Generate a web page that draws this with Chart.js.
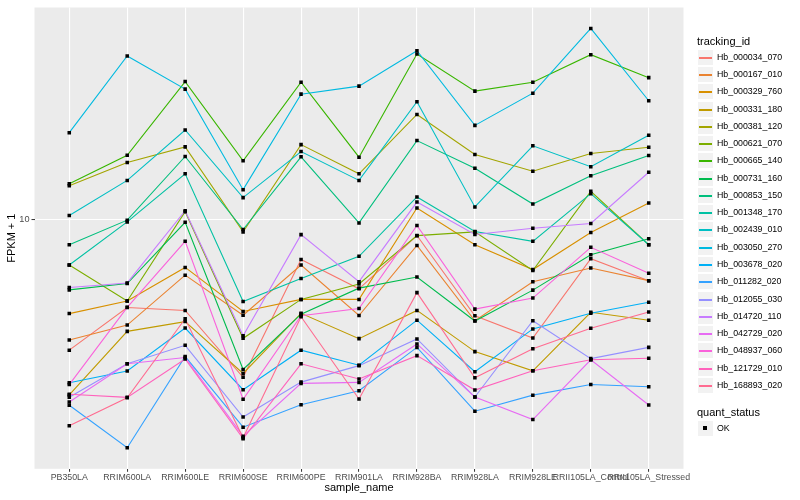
<!DOCTYPE html>
<html>
<head>
<meta charset="utf-8">
<script src="https://cdn.jsdelivr.net/npm/chart.js@4.4.0/dist/chart.umd.min.js"></script>
<style>
  body { margin: 0; background: #fff; }
  #wrap { position: relative; width: 800px; height: 500px; }
  #legend { position: absolute; left: 0; top: 0; width: 800px; height: 500px; pointer-events: none;
            font-family: "Liberation Sans", Arial, sans-serif; }
  #legend .ttl { position: absolute; font-size: 11px; color: #000; line-height: 14px; white-space: nowrap; }
  #legend .key { position: absolute; width: 17px; height: 17px; background: #F2F2F2;
                 box-sizing: border-box; border: 1px solid #fff; }
  #legend .ln { position: absolute; left: 1px; right: 1px; top: 6.5px; height: 2px; }
  #legend .sq { position: absolute; left: 5px; top: 5px; width: 4px; height: 4px; background: #000; }
  #legend .lab { position: absolute; font-size: 8.8px; color: #000; line-height: 17px; white-space: nowrap; }
</style>
</head>
<body>
<div id="wrap">
  <canvas id="chart" width="800" height="500"></canvas>
  <div id="legend"></div>
</div>
<script>
// samples on the x axis
const sampleNames = ['PB350LA', 'RRIM600LA', 'RRIM600LE', 'RRIM600SE', 'RRIM600PE', 'RRIM901LA',
                     'RRIM928BA', 'RRIM928LA', 'RRIM928LE', 'RRII105LA_Control', 'RRII105LA_Stressed'];
const yTicks = [10];

// FPKM + 1 per gene (same order as sampleNames)
const hb000034_070 = [3.65, 5.07, 4.96, 2.96, 7.35, 5.86, 8.84, 4.76, 4.01, 7.39, 6.24];
const hb000167_010 = [3.95, 4.43, 6.51, 4.78, 7.04, 4.77, 8.19, 4.58, 6.19, 6.88, 6.24];
const hb000329_760 = [4.84, 5.33, 6.91, 4.92, 5.40, 5.40, 10.93, 8.23, 6.80, 9.05, 11.35];
const hb000331_180 = [2.585, 4.22, 4.55, 3.05, 4.85, 3.99, 4.96, 3.61, 3.114, 4.89, 4.60];
const hb000381_120 = [12.98, 15.52, 17.51, 9.09, 17.82, 14.23, 22.49, 16.51, 14.52, 16.63, 17.46];
const hb000621_070 = [7.04, 5.33, 10.62, 4.00, 5.40, 6.08, 8.83, 9.09, 6.75, 12.43, 8.23];
const hb000665_140 = [13.18, 16.42, 28.97, 15.73, 28.84, 16.17, 35.84, 26.92, 28.84, 35.65, 29.87];
const hb000731_160 = [5.81, 6.10, 9.79, 3.145, 4.82, 5.89, 6.42, 4.57, 5.80, 7.62, 8.62];
const hb000853_150 = [8.23, 9.95, 16.26, 9.26, 16.22, 9.74, 18.38, 14.86, 11.27, 14.02, 16.38];
const hb001348_170 = [7.04, 9.82, 14.23, 5.31, 6.34, 7.53, 11.90, 9.12, 8.45, 12.21, 8.23];
const hb002439_010 = [10.31, 13.52, 19.95, 11.84, 16.89, 13.52, 24.80, 11.02, 17.65, 15.02, 19.14];
const hb003050_270 = [19.54, 35.30, 27.34, 12.59, 26.30, 27.98, 36.76, 20.67, 26.50, 43.65, 24.99];
const hb003678_020 = [2.84, 3.11, 4.33, 2.69, 3.65, 3.25, 4.60, 3.09, 4.30, 4.85, 5.28];
const hb011282_020 = [2.386, 1.72, 3.475, 2.015, 2.395, 2.67, 3.73, 2.28, 2.58, 2.80, 2.754];
const hb012055_030 = [2.537, 3.286, 3.79, 2.18, 2.853, 3.24, 3.98, 2.543, 4.58, 3.42, 3.73];
const hb014720_110 = [5.92, 6.13, 10.70, 4.08, 8.90, 6.19, 11.44, 8.91, 9.35, 9.70, 14.40];
const hb042729_020 = [2.447, 3.286, 3.45, 1.88, 2.825, 2.847, 3.83, 2.543, 2.138, 3.39, 2.392];
const hb048937_060 = [2.80, 5.08, 8.45, 2.499, 4.76, 5.035, 9.55, 5.01, 5.455, 8.07, 6.61];
const hb121729_010 = [2.597, 2.537, 3.41, 1.845, 3.286, 2.924, 3.50, 2.684, 3.114, 3.39, 3.43];
const hb168893_020 = [2.038, 2.527, 4.65, 1.859, 4.725, 2.505, 5.69, 2.95, 3.69, 4.32, 4.90];

const trackingIds = ['Hb_000034_070', 'Hb_000167_010', 'Hb_000329_760', 'Hb_000331_180', 'Hb_000381_120',
                     'Hb_000621_070', 'Hb_000665_140', 'Hb_000731_160', 'Hb_000853_150', 'Hb_001348_170',
                     'Hb_002439_010', 'Hb_003050_270', 'Hb_003678_020', 'Hb_011282_020', 'Hb_012055_030',
                     'Hb_014720_110', 'Hb_042729_020', 'Hb_048937_060', 'Hb_121729_010', 'Hb_168893_020'];
const seriesValues = [hb000034_070, hb000167_010, hb000329_760, hb000331_180, hb000381_120,
                      hb000621_070, hb000665_140, hb000731_160, hb000853_150, hb001348_170,
                      hb002439_010, hb003050_270, hb003678_020, hb011282_020, hb012055_030,
                      hb014720_110, hb042729_020, hb048937_060, hb121729_010, hb168893_020];

// ggplot default hue palette, 20 levels
const palette = ['#F8766D', '#EA8331', '#D89000', '#C09B00', '#A3A500', '#7CAE00', '#39B600', '#00BB4E',
                 '#00BF7D', '#00C1A3', '#00BFC4', '#00BAE0', '#00B0F6', '#35A2FF', '#9590FF', '#C77CFF',
                 '#E76BF3', '#FA62DB', '#FF62BC', '#FF6C91'];

const FONT = '"Liberation Sans", Arial, sans-serif';

// grey panel behind the grid
const panelBg = {
    id: 'panelBg',
    beforeDraw(chart) {
        const { ctx, chartArea: a } = chart;
        ctx.save();
        ctx.fillStyle = '#EBEBEB';
        ctx.fillRect(a.left, a.top, a.right - a.left, a.bottom - a.top);
        ctx.restore();
    }
};

const datasets = seriesValues.map((vals, i) => ({
    label: trackingIds[i],
    data: vals.map((v, j) => ({ x: j, y: v })),
    borderColor: palette[i],
    borderWidth: 1.1,
    pointRadius: 0,
    tension: 0,
    order: seriesValues.length - i
}));

// quant_status = OK points, on top of all lines
datasets.push({
    label: 'OK',
    data: seriesValues.flatMap(vals => vals.map((v, j) => ({ x: j, y: v }))),
    showLine: false,
    pointStyle: 'rect',
    pointRadius: 2.5,
    backgroundColor: '#000',
    borderColor: '#000',
    borderWidth: 0,
    order: -1
});

const ctx = document.getElementById('chart').getContext('2d');
const chart = new Chart(ctx, {
    type: 'line',
    data: { datasets: datasets },
    options: {
        responsive: false,
        animation: false,
        events: [],
        layout: { padding: { left: 0, right: 116.5, top: 5.2, bottom: 0 } },
        plugins: { legend: { display: false }, tooltip: { enabled: false } },
        scales: {
            x: {
                type: 'linear', min: -0.6, max: 10.6,
                afterBuildTicks: sc => { sc.ticks = sampleNames.map((_, i) => ({ value: i })); },
                afterFit: sc => { sc.height = 31.2; },
                ticks: {
                    callback: v => sampleNames[v],
                    autoSkip: false, maxRotation: 0, minRotation: 0,
                    color: '#4D4D4D', font: { family: FONT, size: 8.8 }, padding: 0
                },
                grid: { color: '#FFFFFF', lineWidth: 1.1, tickLength: 3, tickColor: '#333333', tickWidth: 1 },
                border: { display: false },
                title: { display: true, text: 'sample_name', color: '#000', font: { family: FONT, size: 11 },
                         padding: { top: 0, bottom: 5.4 } }
            },
            y: {
                type: 'logarithmic', min: 1.462, max: 51.3,
                afterBuildTicks: sc => { sc.ticks = yTicks.map(v => ({ value: v })); },
                afterFit: sc => { sc.width = 34.5; },
                ticks: {
                    callback: v => String(v),
                    color: '#4D4D4D', font: { family: FONT, size: 9.2 }, padding: 2
                },
                grid: { color: '#FFFFFF', lineWidth: 1.1, tickLength: 3, tickColor: '#333333', tickWidth: 1 },
                border: { display: false },
                title: { display: true, text: 'FPKM + 1', color: '#000', font: { family: FONT, size: 11 },
                         padding: { top: 5.4, bottom: 0 } }
            }
        }
    },
    plugins: [panelBg]
});

// legends (tracking_id + quant_status)
function buildLegend() {
    const box = document.getElementById('legend');
    const left = 697, keyH = 17.28, firstRow = 57.3;
    let html = `<div class="ttl" style="left:${left}px;top:${Math.round(40.7 - 7)}px">tracking_id</div>`;
    trackingIds.forEach((id, i) => {
        const top = Math.round(firstRow - keyH / 2 + i * keyH);
        html += `<div class="key" style="left:${left}px;top:${top}px"><div class="ln" style="background:${palette[i]}"></div></div>`;
        html += `<div class="lab" style="left:${left + 20}px;top:${top}px">${id}</div>`;
    });
    html += `<div class="ttl" style="left:${left}px;top:${Math.round(412.3 - 7)}px">quant_status</div>`;
    const okTop = Math.round(428.7 - keyH / 2);
    html += `<div class="key" style="left:${left}px;top:${okTop}px"><div class="sq"></div></div>`;
    html += `<div class="lab" style="left:${left + 20}px;top:${okTop}px">OK</div>`;
    box.innerHTML = html;
}
buildLegend();
</script>
</body>
</html>
